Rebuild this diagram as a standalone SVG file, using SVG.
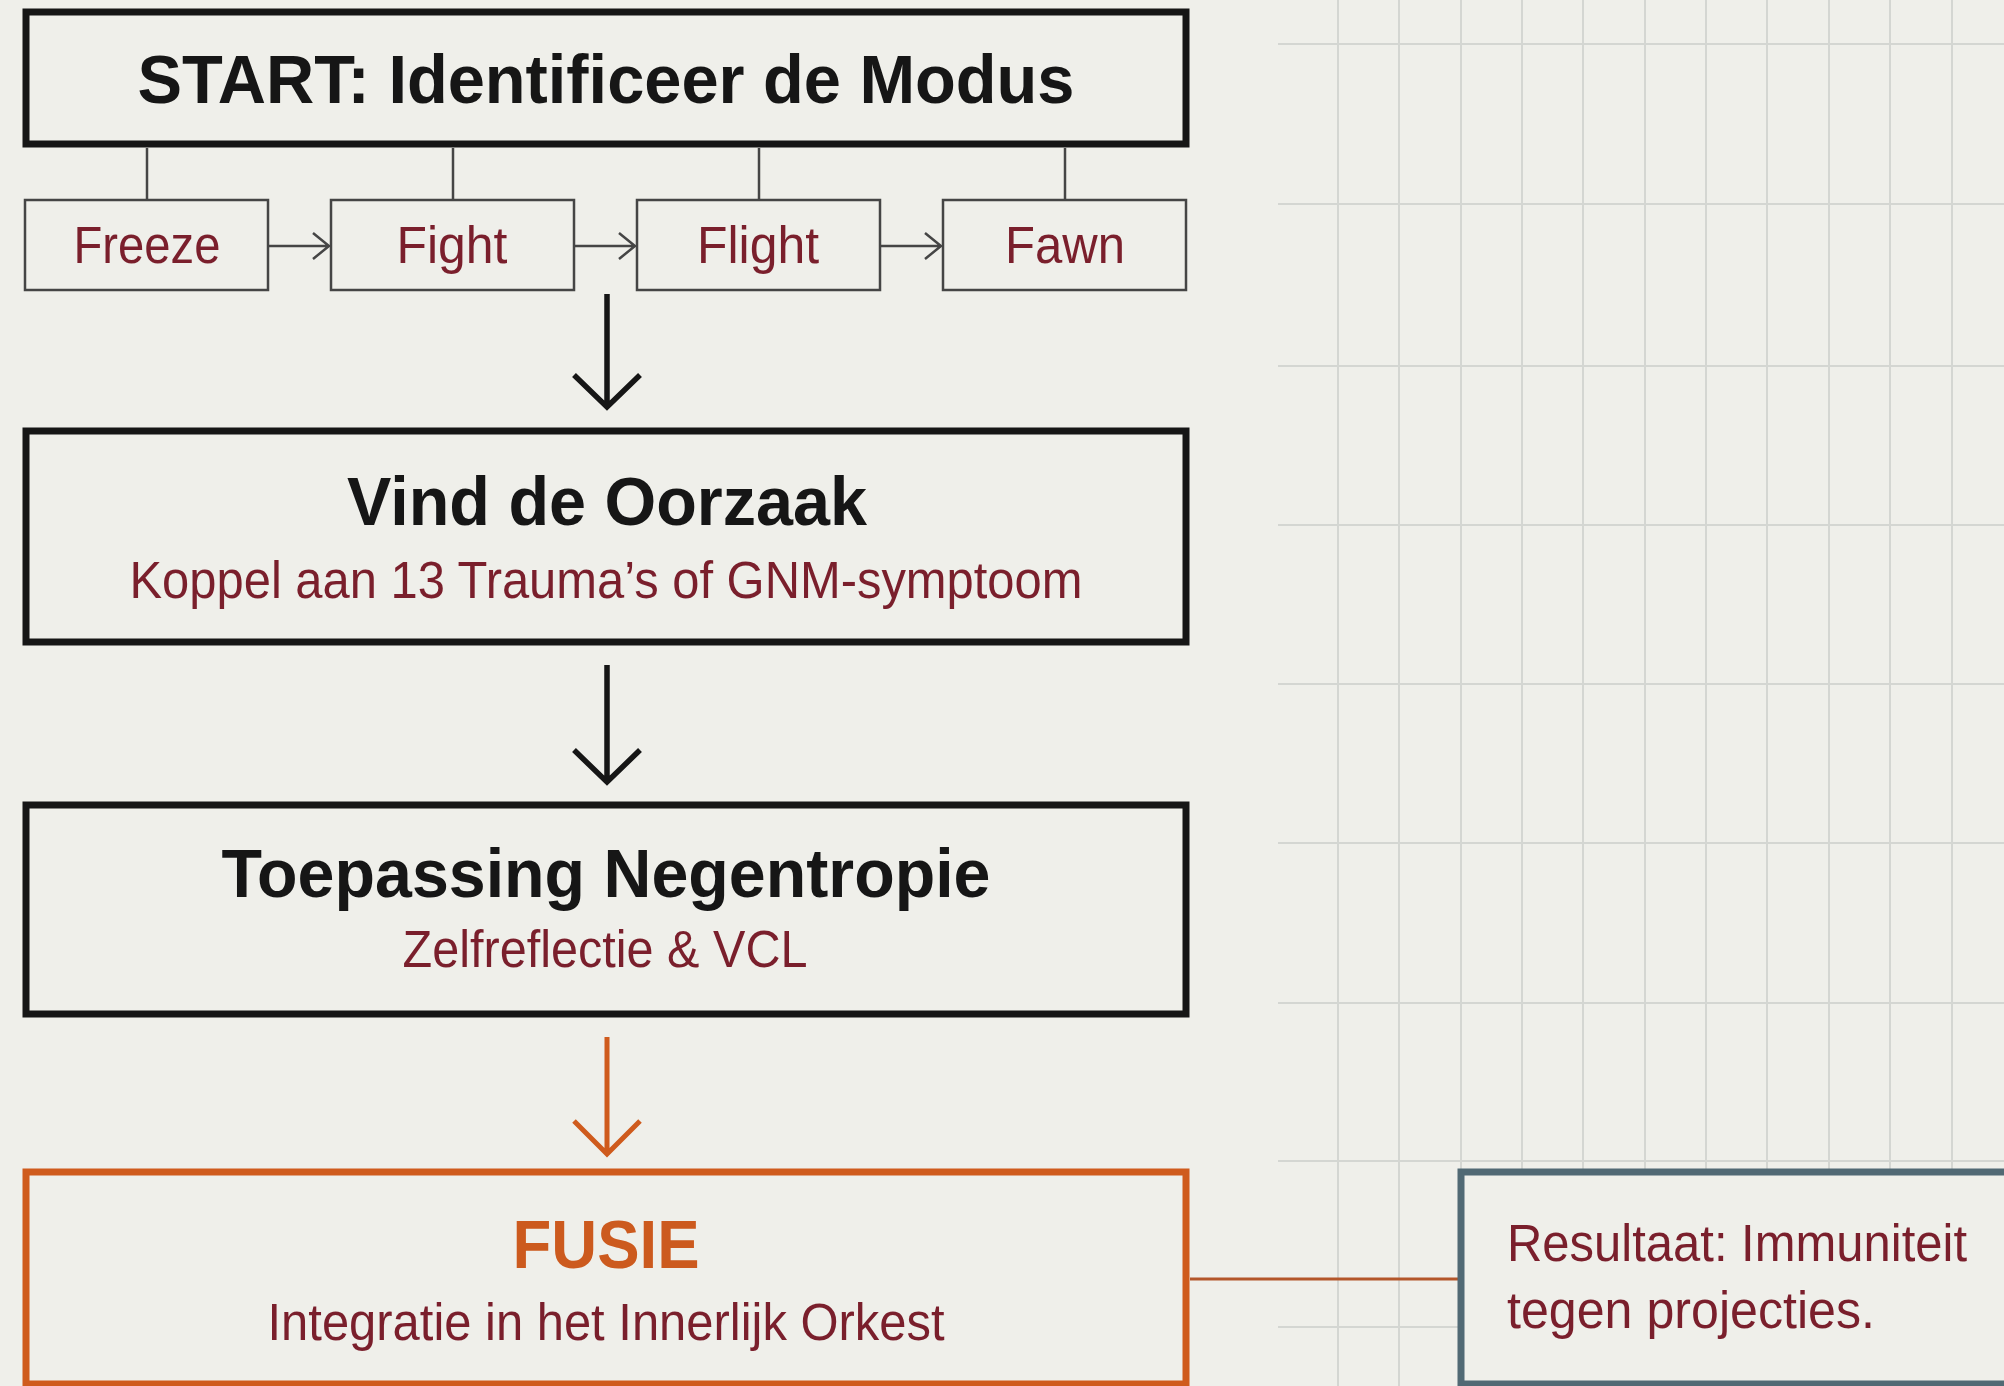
<svg xmlns="http://www.w3.org/2000/svg" width="2004" height="1386" viewBox="0 0 2004 1386">
<style>
.bg{fill:#efefea}
.grid line{stroke:#d4d6d2;stroke-width:2}
.big{fill:#efefea;stroke:#161616;stroke-width:7}
.small{fill:#efefea;stroke:#454545;stroke-width:2.5}
.orange{fill:#efefea;stroke:#cf5b1d;stroke-width:7}
.res{fill:#efefea;stroke:#516974;stroke-width:7}
.title{font-family:"Liberation Sans",Arial,sans-serif;font-weight:bold;font-size:69px;fill:#161616;text-anchor:middle}
.sub{font-family:"Liberation Sans",Arial,sans-serif;font-size:51px;fill:#7a1f2c;text-anchor:middle}
.fusie{fill:#cc5a1e}
.restext{font-family:"Liberation Sans",Arial,sans-serif;font-size:51px;fill:#7a1f2c}
.tick{stroke:#454545;stroke-width:2.5;fill:none}
.down{stroke:#161616;stroke-width:5.5;fill:none}
.downo{stroke:#cf5b1d;stroke-width:5;fill:none}
.link{stroke:#b3562a;stroke-width:3;fill:none}
</style>
<rect class="bg" x="0" y="0" width="2004" height="1386"/>
<g class="grid">
<line x1="1278" y1="44" x2="2004" y2="44"/>
<line x1="1278" y1="204" x2="2004" y2="204"/>
<line x1="1278" y1="366" x2="2004" y2="366"/>
<line x1="1278" y1="525" x2="2004" y2="525"/>
<line x1="1278" y1="684" x2="2004" y2="684"/>
<line x1="1278" y1="843" x2="2004" y2="843"/>
<line x1="1278" y1="1003" x2="2004" y2="1003"/>
<line x1="1278" y1="1161" x2="2004" y2="1161"/>
<line x1="1278" y1="1327" x2="2004" y2="1327"/>
<line x1="1338" y1="0" x2="1338" y2="1386"/>
<line x1="1399" y1="0" x2="1399" y2="1386"/>
<line x1="1461" y1="0" x2="1461" y2="1386"/>
<line x1="1522" y1="0" x2="1522" y2="1386"/>
<line x1="1583" y1="0" x2="1583" y2="1386"/>
<line x1="1645" y1="0" x2="1645" y2="1386"/>
<line x1="1706" y1="0" x2="1706" y2="1386"/>
<line x1="1767" y1="0" x2="1767" y2="1386"/>
<line x1="1829" y1="0" x2="1829" y2="1386"/>
<line x1="1890" y1="0" x2="1890" y2="1386"/>
<line x1="1952" y1="0" x2="1952" y2="1386"/>
</g>
<g id="connectors">
<line class="tick" x1="147" y1="148" x2="147" y2="200"/>
<line class="tick" x1="453" y1="148" x2="453" y2="200"/>
<line class="tick" x1="759" y1="148" x2="759" y2="200"/>
<line class="tick" x1="1065" y1="148" x2="1065" y2="200"/>
<path class="tick" d="M269 246 H329 M313 233 L329 246 L313 259"/>
<path class="tick" d="M575 246 H635 M619 233 L635 246 L619 259"/>
<path class="tick" d="M880 246 H941 M925 233 L941 246 L925 259"/>
<path class="down" d="M607 294 V406 M574 375 L607 407 L640 375"/>
<path class="down" d="M607 665 V781 M574 750 L607 782 L640 750"/>
<path class="downo" d="M607 1037 V1153 M574 1121 L607 1154 L640 1121"/>
<line class="link" x1="1190" y1="1279" x2="1458" y2="1279"/>
</g>
<g id="start">
<rect class="big" x="26" y="12" width="1160" height="132"/>
<text class="title" x="606" y="103" textLength="937" lengthAdjust="spacingAndGlyphs">START: Identificeer de Modus</text>
</g>
<g id="freeze">
<rect class="small" x="25" y="200" width="243" height="90"/>
<text class="sub" x="147" y="263" textLength="147" lengthAdjust="spacingAndGlyphs">Freeze</text>
</g>
<g id="fight">
<rect class="small" x="331" y="200" width="243" height="90"/>
<text class="sub" x="452" y="263" textLength="111" lengthAdjust="spacingAndGlyphs">Fight</text>
</g>
<g id="flight">
<rect class="small" x="637" y="200" width="243" height="90"/>
<text class="sub" x="758" y="263" textLength="122" lengthAdjust="spacingAndGlyphs">Flight</text>
</g>
<g id="fawn">
<rect class="small" x="943" y="200" width="243" height="90"/>
<text class="sub" x="1065" y="263" textLength="120" lengthAdjust="spacingAndGlyphs">Fawn</text>
</g>
<g id="oorzaak">
<rect class="big" x="26" y="431" width="1160" height="211"/>
<text class="title" x="607" y="525" textLength="520" lengthAdjust="spacingAndGlyphs">Vind de Oorzaak</text>
<text class="sub" x="606" y="598" textLength="953" lengthAdjust="spacingAndGlyphs">Koppel aan 13 Trauma’s of GNM-symptoom</text>
</g>
<g id="negentropie">
<rect class="big" x="26" y="805" width="1160" height="209"/>
<text class="title" x="606" y="897" textLength="769" lengthAdjust="spacingAndGlyphs">Toepassing Negentropie</text>
<text class="sub" x="605" y="967" textLength="405" lengthAdjust="spacingAndGlyphs">Zelfreflectie &amp; VCL</text>
</g>
<g id="fusie">
<rect class="orange" x="26" y="1172" width="1160" height="212"/>
<text class="title fusie" x="606" y="1268" textLength="187" lengthAdjust="spacingAndGlyphs">FUSIE</text>
<text class="sub" x="606" y="1340" textLength="677" lengthAdjust="spacingAndGlyphs">Integratie in het Innerlijk Orkest</text>
</g>
<g id="resultaat">
<rect class="res" x="1461" y="1172" width="600" height="212"/>
<text class="restext" x="1507" y="1261" textLength="460" lengthAdjust="spacingAndGlyphs">Resultaat: Immuniteit</text>
<text class="restext" x="1507" y="1328" textLength="368" lengthAdjust="spacingAndGlyphs">tegen projecties.</text>
</g>
</svg>
